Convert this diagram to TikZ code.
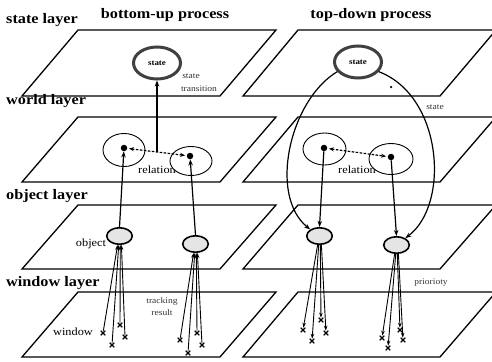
\documentclass[tikz,border=0pt]{standalone}
\usepackage{fontspec}
\setmainfont{Liberation Serif}
\newfontfamily\lf[FakeStretch=1.12]{Liberation Serif}
\usetikzlibrary{shapes.geometric,shapes.misc,arrows.meta,calc}
\begin{document}
\begin{tikzpicture}[x=1pt,y=-1pt,
  plane/.style={draw, line width=1.3pt, line join=miter},
  layerlbl/.style={anchor=base west, font=\lf\fontsize{14.5}{16}\selectfont\bfseries, inner sep=0},
  titlelbl/.style={anchor=base, font=\lf\fontsize{14.5}{16}\selectfont\bfseries, inner sep=0},
  midlbl/.style={font=\lf\fontsize{11}{12}\selectfont, inner sep=0},
  smalllbl/.style={font=\lf\fontsize{8.5}{9}\selectfont, inner sep=0, text=black!80},
  stateell/.style={ellipse, draw=black!75, line width=3pt, fill=white, minimum width=47pt, minimum height=32pt, inner sep=0, font=\lf\fontsize{8}{9}\selectfont\bfseries},
  wellipse/.style={ellipse, draw, line width=0.9pt, fill=white, inner sep=0},
  wdot/.style={circle, fill=black, inner sep=0, minimum size=6.5pt},
  objell/.style={ellipse, draw, line width=1.6pt, fill=black!10, minimum width=25.5pt, minimum height=16.5pt, inner sep=0},
  winmark/.style={cross out, draw, line width=1.1pt, minimum size=3.5pt, inner sep=0},
  conn/.style={line width=1.2pt, -{Stealth[length=6pt,width=4.5pt]}},
  winconn/.style={line width=0.9pt, -{Stealth[length=5pt,width=3.5pt]}},
  relconn/.style={line width=1.2pt, dashed, dash pattern=on 2.5pt off 1.5pt, {Stealth[length=5pt,width=4pt]}-{Stealth[length=5pt,width=4pt]}, shorten <=1.5pt, shorten >=1.5pt}
]
\clip (0,0) rectangle (492,361);
\useasboundingbox (0,0) rectangle (492,361);

% layers
\foreach \yt/\yb in {30/96,117/182,205/269,292/357}{
  \draw[plane] (78,\yt) -- (276,\yt) -- (220,\yb) -- (22,\yb) -- cycle;
  \draw[plane] (298,\yt) -- (496,\yt) -- (440,\yb) -- (243,\yb) -- cycle;
}

% layer and column labels
\node[layerlbl] (lstate) at (6,24) {state layer};
\node[layerlbl] (lworld) at (6,104) {world layer};
\node[layerlbl] (lobject) at (6,199) {object layer};
\node[layerlbl] (lwindow) at (6,286) {window layer};
\node[titlelbl] (tbu) at (165,19) {bottom-up process};
\node[titlelbl] (ttd) at (371,19) {top-down process};

% small labels
\node[smalllbl] (stl1) at (191,76) {state};
\node[smalllbl] (stl2) at (199,89) {transition};
\node[smalllbl] (strl) at (435,107) {state};
\node[midlbl] (relL) at (157,170) {relation};
\node[midlbl] (relR) at (357,170) {relation};
\node[midlbl] (objl) at (91,244) {object};
\node[midlbl] (winl) at (73,332) {window};
\node[smalllbl] (trk1) at (162,301) {tracking};
\node[smalllbl] (trk2) at (162,313) {result};
\node[smalllbl] (prio) at (431,283) {priorioty};

% state nodes
\node[stateell] (sL) at (157,63) {state};
\node[stateell] (sR) at (358,62) {state};
\node[circle, fill=black, inner sep=0, minimum size=2.5pt] (spk) at (391,87) {};

% world nodes
\node[wellipse, minimum width=42pt, minimum height=33pt] (w1L) at (124,150) {};
\node[wellipse, minimum width=42pt, minimum height=29pt] (w2L) at (191,161) {};
\node[wellipse, minimum width=43pt, minimum height=32pt] (w1R) at (324.5,149) {};
\node[wellipse, minimum width=44pt, minimum height=31pt] (w2R) at (391,159) {};
\node[wdot] (d1L) at (124,148) {};
\node[wdot] (d2L) at (190,156) {};
\node[wdot] (d1R) at (324,148) {};
\node[wdot] (d2R) at (391,157) {};

% object nodes
\node[objell] (o1L) at (119.5,236) {};
\node[objell] (o2L) at (195.5,244) {};
\node[objell] (o1R) at (319.5,236) {};
\node[objell] (o2R) at (396.5,245) {};

% relations
\draw[relconn] (d1L) -- (d2L);
\draw[relconn] (d1R) -- (d2R);
\coordinate (mL) at ($(d1L)!0.5!(d2L)$);
\draw[conn] (mL) -- (sL.south);

% bottom-up: object -> world
\draw[conn] (o1L.north) -- (d1L);
\draw[conn] (o2L.north) -- (d2L);
% top-down: world -> object
\draw[conn] (d1R) -- (o1R.north);
\draw[conn] (d2R) -- (o2R.north);

% top-down: state -> objects
\draw[conn] (sR.205) .. controls (290,100) and (268,195) .. (o1R.145);
\draw[conn] (sR.335) .. controls (443,96) and (450,205) .. (o2R.38);

% windows, bottom-up
\foreach \n/\x/\y/\a in {a1/103/333/258, a2/112/345/265, a3/120/325/275, a4/125/337/282}{
  \node[winmark] (\n) at (\x,\y) {};
  \draw[winconn] (\n) -- (o1L.\a);
}
\foreach \n/\x/\y/\a in {b1/180/340/258, b2/188/353/265, b3/197/333/275, b4/202/345/282}{
  \node[winmark] (\n) at (\x,\y) {};
  \draw[winconn] (\n) -- (o2L.\a);
}
% windows, top-down
\foreach \n/\x/\y/\a in {c1/303/330/258, c2/312/341/265, c3/321/320/275, c4/326/333/282}{
  \node[winmark] (\n) at (\x,\y) {};
  \draw[winconn] (o1R.\a) -- (\n);
}
\foreach \n/\x/\y/\a in {e1/382/338/258, e2/388/348/265, e3/400/330/275, e4/403/340/282}{
  \node[winmark] (\n) at (\x,\y) {};
  \draw[winconn] (o2R.\a) -- (\n);
}
\end{tikzpicture}
\end{document}
